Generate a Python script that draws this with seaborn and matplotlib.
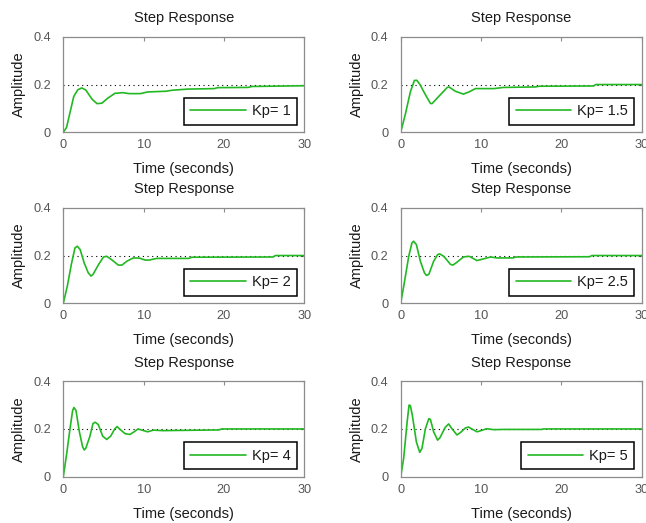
import matplotlib
matplotlib.use("Agg")
import matplotlib.pyplot as plt
import seaborn as sns
import pandas as pd

# ---- data ----
kp_labels = ["Kp= 1", "Kp= 1.5", "Kp= 2", "Kp= 2.5", "Kp= 4", "Kp= 5"]
x_ticks = [0, 10, 20, 30]
y_ticks = [0, 0.2, 0.4]
y_tick_labels = ["0", "0.2", "0.4"]
steady_value = 0.2

t1 = [0, 0.4, 1.3, 1.8, 2.3, 2.8, 3.6, 4.2, 4.8, 5.5, 6.4, 7.4, 8.2, 9.6, 10.5,
      12.8, 13.5, 15.5, 18.8, 19.2, 23.0, 23.5, 30]
y1 = [0, 0.02, 0.15, 0.178, 0.186, 0.177, 0.138, 0.12, 0.122, 0.142, 0.163, 0.166,
      0.162, 0.162, 0.169, 0.172, 0.176, 0.181, 0.183, 0.187, 0.188, 0.192, 0.195]

t2 = [0, 0.6, 1.2, 1.7, 2.0, 2.4, 3.1, 3.7, 3.9, 4.7, 5.8, 6.0, 6.8, 7.8, 8.5,
      9.3, 11.6, 12.8, 16.8, 17.2, 24.0, 24.3, 30]
y2 = [0, 0.079, 0.169, 0.217, 0.218, 0.2, 0.156, 0.121, 0.12, 0.149, 0.188, 0.19,
      0.172, 0.16, 0.169, 0.183, 0.183, 0.188, 0.19, 0.193, 0.194, 0.2, 0.2]

t3 = [0, 0.5, 1.0, 1.45, 1.75, 2.1, 2.6, 3.1, 3.45, 3.7, 4.4, 5.0, 5.4, 6.0, 6.85,
      7.3, 7.9, 8.7, 9.5, 10.2, 10.7, 11.6, 15.6, 16.0, 26.1, 26.4, 30]
y3 = [0, 0.072, 0.163, 0.232, 0.239, 0.225, 0.169, 0.128, 0.114, 0.121, 0.163,
      0.194, 0.197, 0.183, 0.16, 0.16, 0.176, 0.19, 0.189, 0.181, 0.181, 0.188,
      0.188, 0.193, 0.194, 0.2, 0.2]

t4 = [0, 0.45, 1.0, 1.4, 1.6, 1.95, 2.45, 2.95, 3.2, 3.5, 4.1, 4.6, 4.85, 5.35,
      6.2, 6.5, 7.0, 7.8, 8.5, 8.9, 9.5, 10.3, 11.2, 12.0, 14.0, 14.3, 23.5, 23.8, 30]
y4 = [0, 0.086, 0.197, 0.253, 0.26, 0.246, 0.176, 0.128, 0.117, 0.121, 0.176,
      0.204, 0.207, 0.197, 0.163, 0.16, 0.172, 0.194, 0.197, 0.19, 0.179, 0.186,
      0.194, 0.19, 0.19, 0.194, 0.195, 0.2, 0.2]

t5 = [0, 0.4, 0.83, 1.16, 1.33, 1.58, 2.0, 2.4, 2.6, 2.8, 3.3, 3.7, 3.98, 4.36,
      4.9, 5.4, 5.9, 6.4, 6.7, 7.0, 7.7, 8.3, 8.9, 9.3, 10.0, 10.5, 11.2, 12.4,
      19.4, 19.7, 30]
y5 = [0, 0.091, 0.2, 0.277, 0.29, 0.277, 0.188, 0.126, 0.112, 0.119, 0.168, 0.223,
      0.228, 0.218, 0.17, 0.156, 0.17, 0.2, 0.21, 0.2, 0.18, 0.177, 0.19, 0.2,
      0.193, 0.188, 0.195, 0.193, 0.196, 0.2, 0.2]

t6 = [0, 0.37, 0.8, 1.04, 1.2, 1.45, 1.95, 2.37, 2.65, 3.07, 3.5, 3.7, 4.1, 4.6,
      4.9, 5.55, 5.97, 6.4, 7.0, 7.4, 8.05, 8.45, 8.9, 9.5, 10.1, 10.7, 11.6, 12.8,
      17.5, 17.8, 30]
y6 = [0, 0.077, 0.229, 0.3, 0.298, 0.257, 0.146, 0.102, 0.119, 0.2, 0.243, 0.24,
      0.188, 0.153, 0.164, 0.207, 0.221, 0.2, 0.175, 0.184, 0.204, 0.208, 0.199,
      0.188, 0.194, 0.201, 0.197, 0.198, 0.198, 0.2, 0.2]

series_t = [t1, t2, t3, t4, t5, t6]
series_y = [y1, y2, y3, y4, y5, y6]

# ---- style ----
sns.set_style("white")
plt.rcParams["font.family"] = ["Liberation Sans", "DejaVu Sans"]

green = "#22b822"
frame_col = "#8c8c8c"
tick_col = "#555555"
text_col = "#1a1a1a"
fs = 10.5
fs_tick = 9.2

fig = plt.figure(figsize=(6.46, 5.23), dpi=100)
fig.patch.set_facecolor("white")

W, H = 646, 523
lefts = [63.3, 400.7]
bottoms = [132.3, 303.3, 476.7]
aw, ah = 241.0, 95.5

for i in range(6):
    r, c = divmod(i, 2)
    ax = fig.add_axes([lefts[c] / W, 1 - bottoms[r] / H, aw / W, ah / H])
    df = pd.DataFrame({"t": series_t[i], "y": series_y[i]})
    sns.lineplot(data=df, x="t", y="y", ax=ax, color=green, lw=1.2,
                 label=kp_labels[i], estimator=None, sort=False)
    ax.plot([x_ticks[0], x_ticks[-1]], [steady_value, steady_value], color="black",
            lw=0.8, linestyle=(0, (1.0, 3.2)), zorder=1)
    ax.set_xlim(x_ticks[0], x_ticks[-1])
    ax.set_ylim(y_ticks[0], y_ticks[-1])
    ax.set_xticks(x_ticks)
    ax.set_yticks(y_ticks)
    ax.set_yticklabels(y_tick_labels)
    ax.tick_params(axis="both", direction="in", length=3, width=0.8,
                   color=frame_col, labelcolor=tick_col, labelsize=fs_tick,
                   top=True, right=True)
    ax.tick_params(axis="x", pad=5)
    ax.tick_params(axis="y", pad=9)
    for s in ax.spines.values():
        s.set_color(frame_col)
        s.set_linewidth(0.9)
    ax.set_title("Step Response", fontsize=fs, color=text_col, pad=10.5)
    ax.set_xlabel("Time (seconds)", fontsize=fs, color=text_col, labelpad=8)
    ax.set_ylabel("Amplitude", fontsize=fs, color=text_col, labelpad=5)
    leg = ax.legend(loc="lower right", fontsize=fs, frameon=True, fancybox=False,
                    handlelength=3.8, handletextpad=0.4, borderpad=0.45,
                    borderaxespad=0.5, labelcolor=text_col)
    leg.get_frame().set_edgecolor("black")
    leg.get_frame().set_linewidth(1.1)
    leg.get_frame().set_alpha(1)

fig.savefig("out.png", dpi=100, facecolor="white")
